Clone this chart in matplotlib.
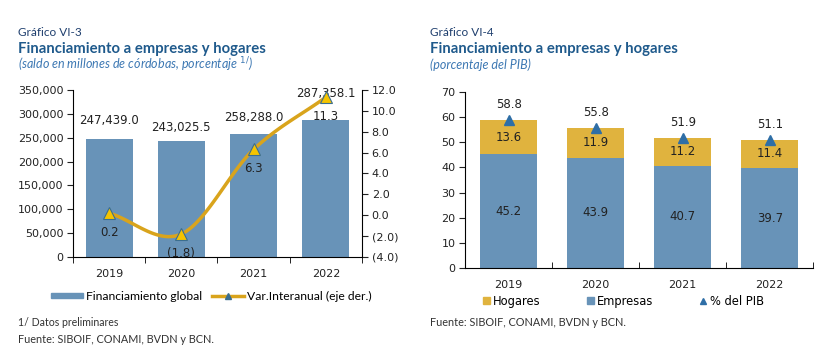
import numpy as np
import matplotlib.pyplot as plt
from matplotlib.lines import Line2D
from matplotlib.patches import Patch

plt.rcParams['font.family'] = ['DejaVu Sans']

# data
years = ['2019', '2020', '2021', '2022']
financiamiento = [247439.0, 243025.5, 258288.0, 287358.1]
var_interanual = [0.2, -1.8, 6.3, 11.3]
empresas = [45.2, 43.9, 40.7, 39.7]
hogares = [13.6, 11.9, 11.2, 11.4]
pct_pib = [58.8, 55.8, 51.9, 51.1]

blue = '#6893b8'
gold = '#e0b33e'
line_gold = '#d9a41c'
navy = '#1f3f6e'
title_blue = '#1f5a8c'
sub_blue = '#3d78b3'
title_font = ['Lato', 'DejaVu Sans']


def smooth(x, y, n=30):
    # Catmull-Rom curve through the points (Excel-style smoothed line)
    x = np.asarray(x, float)
    y = np.asarray(y, float)
    px = np.concatenate([[2 * x[0] - x[1]], x, [2 * x[-1] - x[-2]]])
    py = np.concatenate([[2 * y[0] - y[1]], y, [2 * y[-1] - y[-2]]])
    xs, ys = [], []
    t = np.linspace(0, 1, n)
    for i in range(1, len(px) - 2):
        for p, out in ((px, xs), (py, ys)):
            p0, p1, p2, p3 = p[i - 1], p[i], p[i + 1], p[i + 2]
            out.extend(0.5 * ((2 * p1) + (-p0 + p2) * t
                              + (2 * p0 - 5 * p1 + 4 * p2 - p3) * t ** 2
                              + (-p0 + 3 * p1 - 3 * p2 + p3) * t ** 3))
    return np.array(xs), np.array(ys)


def paren(v, pos=None):
    return f'({abs(v):.1f})' if v < 0 else f'{v:.1f}'


fig = plt.figure(figsize=(8.35, 3.64), dpi=100)
x = np.arange(len(years))

# ---------- left chart ----------
ax1 = fig.add_axes([0.0874, 0.294, 0.3461, 0.459])
ax1.bar(x, financiamiento, width=0.65, color=blue, zorder=2)
ax1.set_ylim(0, 350000)
ax1.set_yticks(range(0, 350001, 50000))
ax1.yaxis.set_major_formatter(lambda v, p: f'{int(v):,}')
ax1.set_xlim(-0.5, 3.5)
ax1.set_xticks(x)
ax1.set_xticklabels(years)
ax1.set_xticks(np.arange(-0.5, 3.6, 1), minor=True)
ax1.tick_params(axis='x', which='major', length=0, pad=9)
ax1.tick_params(axis='x', which='minor', length=4, direction='out')
ax1.tick_params(axis='y', length=4, direction='out', pad=3)
ax1.tick_params(labelsize=8, colors='#222222')
for s in ['top', 'right']:
    ax1.spines[s].set_visible(False)
bar_offsets = [13.5, 10, 12, 19]
for xi, v, off in zip(x, financiamiento, bar_offsets):
    ax1.annotate(f'{v:,.1f}', (xi, v), xytext=(0, off), textcoords='offset points',
                 ha='center', va='center', fontsize=8.5, color='#222222', zorder=5)

ax2 = ax1.twinx()
ax2.set_ylim(-4, 12)
ax2.set_yticks(range(-4, 13, 2))
ax2.yaxis.set_major_formatter(paren)
ax2.tick_params(axis='y', length=4, direction='out', labelsize=8, colors='#222222', pad=3)
for s in ['top', 'left', 'bottom']:
    ax2.spines[s].set_visible(False)
sx, sy = smooth(x, var_interanual)
ax2.plot(sx, sy, color=line_gold, lw=2.5, zorder=3)
ax2.plot(x, var_interanual, ls='none', marker='^', ms=8, mfc='#f5c400',
         mec='#3b6e8f', mew=0.8, zorder=4)
for xi, v in zip(x, var_interanual):
    ax2.annotate(paren(v), (xi, v), xytext=(0, -14), textcoords='offset points',
                 ha='center', va='center', fontsize=8.5, color='#222222')

h1 = [Patch(color=blue),
      Line2D([], [], color=line_gold, lw=2.5, marker='^', ms=4, mfc='#3b6e8f', mec='#3b6e8f')]
ax1.legend(h1, ['Financiamiento global', 'Var.Interanual (eje der.)'],
           loc='center', bbox_to_anchor=(0.48, -0.235), ncol=2, frameon=False,
           prop={'family': title_font, 'size': 8.7}, handlelength=2.6, handleheight=0.35,
           columnspacing=0.8, handletextpad=0.3)

# ---------- right chart ----------
ax3 = fig.add_axes([0.557, 0.264, 0.417, 0.483])
ax3.bar(x, empresas, width=0.66, color=blue, zorder=2)
ax3.bar(x, hogares, width=0.66, bottom=empresas, color=gold, zorder=2)
ax3.plot(x, pct_pib, ls='none', marker='^', ms=7, color='#2e6ea6', zorder=3)
ax3.set_ylim(0, 70)
ax3.set_yticks(range(0, 71, 10))
ax3.set_xlim(-0.5, 3.5)
ax3.set_xticks(x)
ax3.set_xticklabels(years)
ax3.set_xticks(np.arange(-0.5, 3.6, 1), minor=True)
ax3.tick_params(axis='x', which='major', length=0, pad=9)
ax3.tick_params(axis='x', which='minor', length=4, direction='in')
ax3.tick_params(axis='y', length=4, direction='out', pad=3)
ax3.tick_params(labelsize=8, colors='#222222')
for s in ['top', 'right']:
    ax3.spines[s].set_visible(False)
for xi, e, h, t in zip(x, empresas, hogares, pct_pib):
    ax3.text(xi, e / 2, f'{e:.1f}', ha='center', va='center', fontsize=8.5, color='#222222')
    ax3.text(xi, e + h / 2, f'{h:.1f}', ha='center', va='center', fontsize=8.5, color='#222222')
    ax3.annotate(f'{t:.1f}', (xi, t), xytext=(0, 11), textcoords='offset points',
                 ha='center', va='center', fontsize=8.5, color='#222222')

h3 = [Patch(color=gold), Patch(color=blue),
      Line2D([], [], ls='none', marker='^', ms=4, color='#2e6ea6')]
ax3.legend(h3, ['Hogares', 'Empresas', '% del PIB'], loc='center',
           bbox_to_anchor=(0.455, -0.19), ncol=3, frameon=False, fontsize=8.3,
           handlelength=0.6, handleheight=0.6, columnspacing=4.0, handletextpad=0.3)

# ---------- titles and notes ----------
for x0, num, sub in [(0.0216, 'Gráfico VI-3', '(saldo en millones de córdobas, porcentaje $^{1/}$)'),
                     (0.515, 'Gráfico VI-4', '(porcentaje del PIB)')]:
    fig.text(x0, 0.912, num, fontsize=8.5, color=navy, family=title_font, va='center')
    fig.text(x0, 0.866, 'Financiamiento a empresas y hogares', fontsize=10.7,
             fontweight='bold', color=title_blue, family=title_font, va='center')
    fig.text(x0, 0.821, sub, fontsize=9, style='italic', color=sub_blue,
             family=title_font, va='center')

fig.text(0.0216, 0.115, '1/ Datos preliminares', fontsize=7.6, color='#333333',
         family=title_font, va='center')
fig.text(0.0216, 0.066, 'Fuente: SIBOIF, CONAMI, BVDN y BCN.', fontsize=7.8, color='#333333',
         family=title_font, va='center')
fig.text(0.515, 0.113, 'Fuente: SIBOIF, CONAMI, BVDN y BCN.', fontsize=7.8, color='#333333',
         family=title_font, va='center')

fig.savefig('out.png', dpi=100)
